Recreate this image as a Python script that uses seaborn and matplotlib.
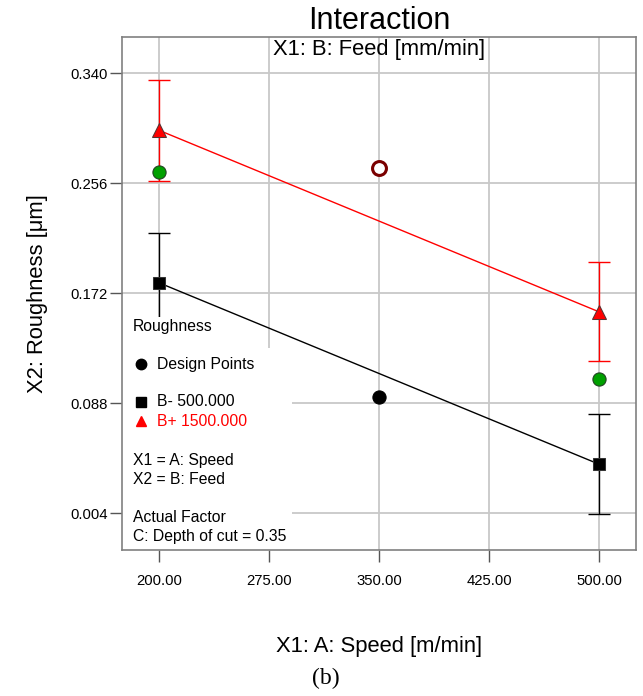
import matplotlib
matplotlib.use("Agg")
import matplotlib.pyplot as plt
import seaborn as sns
import pandas as pd
from matplotlib.patches import Rectangle

# ---- data ----
speed = [200, 500]
b_low_mean = [0.180, 0.0415]
b_low_lo = [0.1417, 0.0033]
b_low_hi = [0.2183, 0.0798]
b_high_mean = [0.2964, 0.1578]
b_high_lo = [0.258, 0.1203]
b_high_hi = [0.3346, 0.1961]

green_x = [200, 500]
green_y = [0.2642, 0.1066]
black_x = [350]
black_y = [0.0928]
hollow_x = [350]
hollow_y = [0.2673]

xticks = [200, 275, 350, 425, 500]
yticks = [0.004, 0.088, 0.172, 0.256, 0.340]

sns.set_theme(style="white")
plt.rcParams['font.family'] = ['Liberation Sans', 'DejaVu Sans']
plt.rcParams['text.color'] = 'black'
plt.rcParams['axes.labelcolor'] = 'black'
plt.rcParams['xtick.color'] = 'black'
plt.rcParams['ytick.color'] = 'black'

fig = plt.figure(figsize=(6.43, 6.96), dpi=100)
ax = fig.add_axes([122/643, 1-550/696, (636-122)/643, (550-37)/696])

# grid
for xv in xticks:
    ax.axvline(xv, color="#c8c8c8", lw=1.3, zorder=0)
for yv in yticks:
    ax.axhline(yv, color="#c8c8c8", lw=1.3, zorder=0)

df = pd.DataFrame({
    "speed": speed * 2,
    "rough": b_low_mean + b_high_mean,
    "feed": ["B-"] * 2 + ["B+"] * 2,
})

# error bars
ax.errorbar(speed, b_low_mean,
            yerr=[[m - l for m, l in zip(b_low_mean, b_low_lo)],
                  [h - m for m, h in zip(b_low_mean, b_low_hi)]],
            fmt="none", ecolor="black", elinewidth=1, capsize=8, capthick=1, zorder=2)
ax.errorbar(speed, b_high_mean,
            yerr=[[m - l for m, l in zip(b_high_mean, b_high_lo)],
                  [h - m for m, h in zip(b_high_mean, b_high_hi)]],
            fmt="none", ecolor="red", elinewidth=1, capsize=8, capthick=1, zorder=2)

sns.lineplot(data=df[df.feed == "B-"], x="speed", y="rough", color="black", lw=1,
             marker="s", markersize=9, markerfacecolor="black", markeredgecolor="#333333",
             ax=ax, zorder=3, legend=False)
sns.lineplot(data=df[df.feed == "B+"], x="speed", y="rough", color="red", lw=1,
             marker="^", markersize=10, markerfacecolor="red", markeredgecolor="#553333",
             ax=ax, zorder=3, legend=False)

sns.scatterplot(x=green_x, y=green_y, color="#00a000", edgecolor="#224422", s=90,
                linewidth=0.8, ax=ax, zorder=4)
sns.scatterplot(x=black_x, y=black_y, color="black", edgecolor="black", s=90,
                linewidth=0.8, ax=ax, zorder=4)
sns.scatterplot(x=hollow_x, y=hollow_y, color="white", edgecolor="#7a0000", s=100,
                linewidth=2.2, ax=ax, zorder=4)

ax.set_xlim(174.8, 525.2)
ax.set_ylim(-0.0240, 0.3676)
ax.set_xticks(xticks)
ax.set_xticklabels([f"{v:.2f}" for v in xticks], fontsize=10.7)
ax.set_yticks(yticks)
ax.set_yticklabels([f"{v:.3f}" for v in yticks], fontsize=10.7)
ax.tick_params(axis="both", direction="out", length=8.5, width=1, color="#555555",
               bottom=True, left=True, pad=2)
ax.tick_params(axis="x", pad=9)
for s in ax.spines.values():
    s.set_color("#808080")
    s.set_linewidth(1.2)
    s.set_zorder(10)

ax.set_xlabel("X1: A: Speed [m/min]", fontsize=15.8, labelpad=34)
ax.set_ylabel("X2: Roughness [μm]", fontsize=15.8, labelpad=16)

# legend box (white) over grid
ax.add_patch(Rectangle((0, 0), (292-122)/514, (550-348)/513, transform=ax.transAxes,
                       facecolor="white", edgecolor="none", zorder=5))
ax.add_patch(Rectangle((0, 0), (216-122)/514, (550-317)/513, transform=ax.transAxes,
                       facecolor="white", edgecolor="none", zorder=5))

def ax_xy(px, py):
    return ((px-122)/514, (550-py)/513)

def t(px, py, s, color="black", size=11.3):
    x, y = ax_xy(px, py)
    ax.text(x, y, s, transform=ax.transAxes, fontsize=size, color=color,
            va="center", ha="left", zorder=6)

t(133, 326, "Roughness")
t(157, 364, "Design Points")
t(157, 402, "B- 500.000")
t(157, 421, "B+ 1500.000", color="red")
t(133, 460, "X1 = A: Speed")
t(133, 479, "X2 = B: Feed")
t(133, 517, "Actual Factor")
t(133, 536, "C: Depth of cut = 0.35")

for (px, py, mk, col, ms) in [(141, 364, "o", "black", 7.5), (141, 402, "s", "black", 7),
                              (141, 421, "^", "red", 7.5)]:
    x, y = ax_xy(px, py)
    ax.plot([x], [y], marker=mk, color=col, markersize=ms, transform=ax.transAxes,
            linestyle="none", zorder=6, clip_on=False)

fig.text(379/643, 1-21/696, "Interaction", ha="center", va="center", fontsize=22)
x, y = ax_xy(379, 49)
ax.text(x, y, "X1: B: Feed [mm/min]", transform=ax.transAxes, ha="center", va="center",
        fontsize=15.8, zorder=6)
fig.text(326/643, 1-678/696, "(b)", ha="center", va="center", fontsize=17,
         family=["Liberation Serif", "DejaVu Serif"])

fig.savefig("out.png", dpi=100, facecolor="white")
